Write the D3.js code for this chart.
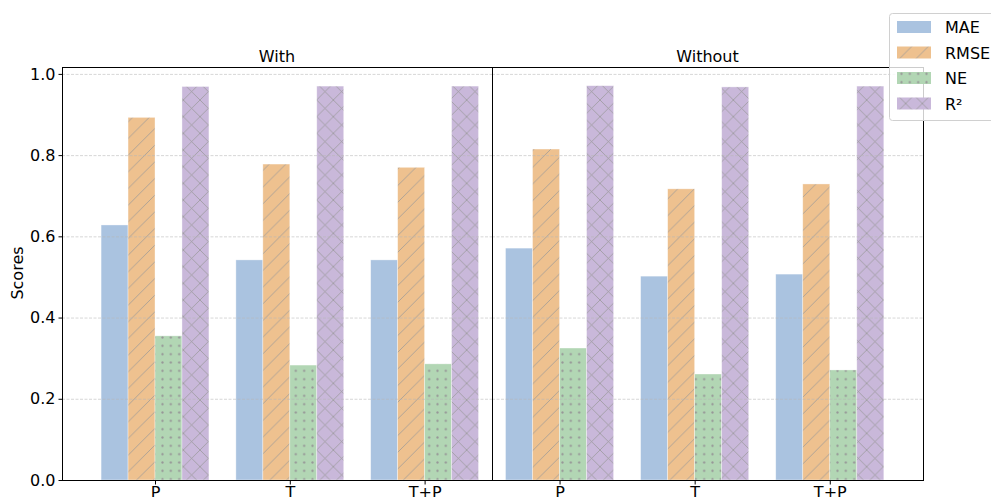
<!DOCTYPE html>
<html>
<head>
<meta charset="utf-8">
<script src="https://cdn.jsdelivr.net/npm/d3@7"></script>
<style>
  html, body { margin: 0; padding: 0; background: #fff; }
  svg { display: block; font-family: "DejaVu Sans", sans-serif; }
</style>
</head>
<body>
<svg id="chart" width="991" height="497"></svg>
<script>
// Feature sets on the x axis and the two experimental conditions
const categories = ["P", "T", "T+P"];
const panels = ["With", "Without"];
const metrics = ["MAE", "RMSE", "NE", "R²"];

// Scores per metric, one value per category
const withMAE  = [0.628, 0.542, 0.542];
const withRMSE = [0.893, 0.778, 0.770];
const withNE   = [0.355, 0.283, 0.286];
const withR2   = [0.969, 0.970, 0.970];

const withoutMAE  = [0.571, 0.502, 0.507];
const withoutRMSE = [0.815, 0.717, 0.729];
const withoutNE   = [0.325, 0.261, 0.271];
const withoutR2   = [0.971, 0.968, 0.970];

const yTicks = [0.0, 0.2, 0.4, 0.6, 0.8, 1.0];

const seriesByPanel = {
  "With":    [withMAE, withRMSE, withNE, withR2],
  "Without": [withoutMAE, withoutRMSE, withoutNE, withoutR2]
};

const fills = ["#aac3e0", "#eec18f", "#b2d6b4", "#c9b8da"];
const hatchColor = "#979797";
const barWidth = 0.2;

const svg = d3.select("#chart");
const defs = svg.append("defs");

// Hatch patterns: none, "/", dots, "x"
const unit = 100 / 6;
function makePattern(id, fill, kind) {
  const size = kind === "dots" ? unit / 2 : unit;
  const p = defs.append("pattern")
    .attr("id", id)
    .attr("patternUnits", "userSpaceOnUse")
    .attr("width", size).attr("height", size);
  p.append("rect").attr("width", size).attr("height", size).attr("fill", fill);
  const line = (x1, y1, x2, y2) => p.append("line")
    .attr("x1", x1).attr("y1", y1).attr("x2", x2).attr("y2", y2)
    .attr("stroke", hatchColor).attr("stroke-width", 0.75);
  if (kind === "slash" || kind === "cross") {
    line(-1, size + 1, size + 1, -1);
    line(-1, 1, 1, -1);
    line(size - 1, size + 1, size + 1, size - 1);
  }
  if (kind === "cross") {
    line(-1, -1, size + 1, size + 1);
    line(size - 1, -1, size + 1, 1);
    line(-1, size - 1, 1, size + 1);
  }
  if (kind === "dots") {
    p.append("circle").attr("cx", size / 2).attr("cy", size / 2)
      .attr("r", 1.1).attr("fill", hatchColor);
  }
}
const kinds = ["none", "slash", "dots", "cross"];
metrics.forEach((m, i) => makePattern("pat" + i, fills[i], kinds[i]));

const y = d3.scaleLinear().domain([0, 1.017]).range([480, 67]);

const panelLayout = [
  { name: "With",    x0: 62,  x1: 492, domain: [-0.69, 2.5] },
  { name: "Without", x0: 492, x1: 923, domain: [-0.5, 2.69] }
];

panelLayout.forEach((pl, pi) => {
  const x = d3.scaleLinear().domain(pl.domain).range([pl.x0, pl.x1]);
  const g = svg.append("g");
  const series = seriesByPanel[pl.name];

  // bars
  series.forEach((vals, si) => {
    g.selectAll(null)
      .data(vals)
      .join("rect")
      .attr("x", (d, ci) => x(ci + (si - 1.5) * barWidth - barWidth / 2))
      .attr("width", (d, ci) => x(ci + barWidth) - x(ci))
      .attr("y", d => y(d))
      .attr("height", d => y(0) - y(d))
      .attr("fill", `url(#pat${si})`)
      .attr("stroke", "#ffffff")
      .attr("stroke-opacity", 0.5)
      .attr("stroke-width", 0.7);
  });

  // horizontal grid lines, drawn above the bars
  g.selectAll(null)
    .data(yTicks)
    .join("line")
    .attr("x1", pl.x0).attr("x2", pl.x1)
    .attr("y1", d => y(d) + 0.5).attr("y2", d => y(d) + 0.5)
    .attr("stroke", "#b8b8b8")
    .attr("stroke-opacity", 0.7)
    .attr("stroke-width", 0.8)
    .attr("stroke-dasharray", "3,1.5");

  // frame
  g.append("rect")
    .attr("x", pl.x0 + 0.5).attr("y", 67.5)
    .attr("width", pl.x1 - pl.x0).attr("height", 480 - 67)
    .attr("fill", "none").attr("stroke", "#000").attr("stroke-width", 1);

  // x axis
  const xAxis = d3.axisBottom(x)
    .tickValues(d3.range(categories.length))
    .tickFormat(i => categories[i])
    .tickSize(4).tickPadding(2);
  const xa = g.append("g").attr("transform", "translate(0,480.5)").call(xAxis);
  xa.select(".domain").remove();
  xa.selectAll("text").attr("font-size", 16).attr("fill", "#000")
    .attr("font-family", "DejaVu Sans, sans-serif");

  // panel title
  g.append("text")
    .attr("x", (pl.x0 + pl.x1) / 2).attr("y", 62)
    .attr("text-anchor", "middle").attr("font-size", 16)
    .text(pl.name);

  // y axis on the first panel only
  if (pi === 0) {
    const yAxis = d3.axisLeft(y).tickValues(yTicks)
      .tickFormat(d3.format(".1f")).tickSize(4).tickPadding(3);
    const ya = g.append("g").attr("transform", `translate(${pl.x0 + 0.5},0)`).call(yAxis);
    ya.select(".domain").remove();
    ya.selectAll("text").attr("font-size", 16).attr("fill", "#000")
      .attr("font-family", "DejaVu Sans, sans-serif");
  }
});

// y axis label
svg.append("text")
  .attr("transform", "translate(23,273) rotate(-90)")
  .attr("text-anchor", "middle").attr("font-size", 16)
  .text("Scores");

// legend
const lg = svg.append("g").attr("transform", "translate(889,13)");
lg.append("rect")
  .attr("x", 0.5).attr("y", 0.5).attr("width", 120).attr("height", 107)
  .attr("rx", 3)
  .attr("fill", "#fff").attr("fill-opacity", 0.8)
  .attr("stroke", "#d0d0d0");
metrics.forEach((m, i) => {
  const row = lg.append("g").attr("transform", `translate(0,${14 + i * 25.5})`);
  row.append("rect")
    .attr("x", 8).attr("y", -6).attr("width", 34).attr("height", 12)
    .attr("fill", `url(#pat${i})`);
  row.append("text")
    .attr("x", 56).attr("y", 6).attr("font-size", 16)
    .text(m);
});
</script>
</body>
</html>
